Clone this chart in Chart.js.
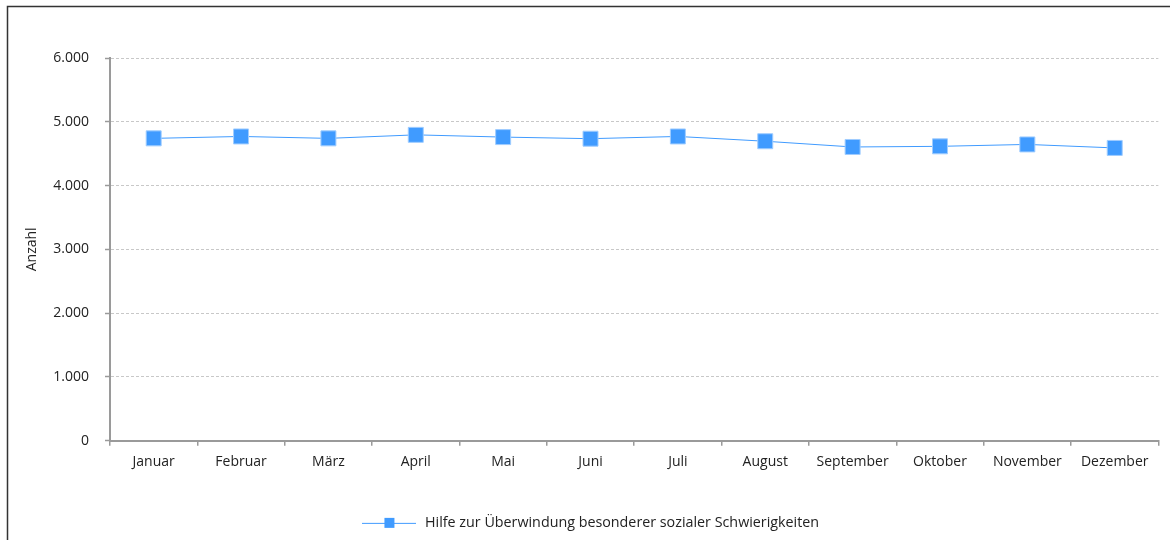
<!DOCTYPE html>
<html lang="de">
<head>
<meta charset="utf-8">
<title>Hilfe zur Überwindung besonderer sozialer Schwierigkeiten</title>
<script src="https://cdn.jsdelivr.net/npm/chart.js@4/dist/chart.umd.min.js"></script>
<style>
  html, body { margin: 0; padding: 0; background: #fff; }
  #wrap { position: relative; width: 1170px; height: 540px; }
</style>
</head>
<body>
<div id="wrap"><canvas id="chart" width="1170" height="540"></canvas></div>
<script>
// Monatliche Anzahl der Empfänger
const months = ['Januar', 'Februar', 'März', 'April', 'Mai', 'Juni', 'Juli',
  'August', 'September', 'Oktober', 'November', 'Dezember'];
const seriesName = 'Hilfe zur Überwindung besonderer sozialer Schwierigkeiten';
const recipients = [4740, 4770, 4740, 4795, 4760, 4735, 4770, 4695, 4605, 4615, 4645, 4590];
const yTicks = [0, 1000, 2000, 3000, 4000, 5000, 6000];

const BLUE = 'rgb(64,155,255)';
const FONT = "'Open Sans', 'DejaVu Sans', sans-serif";
const AXIS = '#9a9a9a';

// Legendensymbol: Linie mit Quadrat in der Mitte
function legendSymbol() {
  const c = document.createElement('canvas');
  c.width = 54; c.height = 12;
  const g = c.getContext('2d');
  g.strokeStyle = BLUE; g.lineWidth = 1;
  g.beginPath(); g.moveTo(0, 6.5); g.lineTo(54, 6.5); g.stroke();
  g.fillStyle = BLUE;
  g.fillRect(22, 1, 10, 10);
  return c;
}

// Rahmen um die Grafik
const framePlugin = {
  id: 'frame',
  beforeDraw(chart) {
    const ctx = chart.ctx;
    ctx.save();
    ctx.strokeStyle = '#333';
    ctx.lineWidth = 1.5;
    ctx.strokeRect(7.5, 6.5, 2000, 2000);
    ctx.restore();
  }
};

const fmt = new Intl.NumberFormat('de-DE');

new Chart(document.getElementById('chart'), {
  type: 'line',
  data: {
    labels: months,
    datasets: [{
      label: seriesName,
      data: recipients,
      borderColor: BLUE,
      borderWidth: 1,
      backgroundColor: BLUE,
      pointStyle: 'rect',
      pointRadius: 10.6,
      pointHoverRadius: 10.6,
      pointBackgroundColor: BLUE,
      pointBorderColor: 'rgba(160,205,255,1)',
      pointBorderWidth: 1,
      tension: 0,
      fill: false
    }]
  },
  options: {
    responsive: false,
    animation: false,
    layout: { padding: { left: 20, right: 10, top: 58, bottom: 0 } },
    plugins: {
      tooltip: { enabled: false },
      legend: {
        position: 'bottom',
        labels: {
          usePointStyle: true,
          pointStyleWidth: 57,
          padding: 10,
          color: '#222',
          font: { family: FONT, size: 14.3 },
          generateLabels(chart) {
            return chart.data.datasets.map((ds, i) => ({
              text: ds.label,
              pointStyle: legendSymbol(),
              fillStyle: BLUE,
              strokeStyle: BLUE,
              lineWidth: 0,
              hidden: false,
              datasetIndex: i,
              fontColor: '#222'
            }));
          }
        }
      }
    },
    scales: {
      x: {
        offset: true,
        grid: {
          display: true,
          drawOnChartArea: false,
          offset: true,
          tickLength: 5,
          color: AXIS,
          lineWidth: 1.5
        },
        border: { display: true, color: AXIS, width: 2 },
        ticks: {
          padding: 8,
          color: '#222',
          font: { family: FONT, size: 14 }
        },
        afterFit(scale) { scale.height = 65; }
      },
      y: {
        min: 0,
        max: 6000,
        afterBuildTicks(scale) { scale.ticks = yTicks.map(v => ({ value: v })); },
        grid: {
          color: '#c8c8c8',
          lineWidth: 1,
          tickLength: 5,
          tickColor: AXIS,
          tickWidth: 1.5,
          tickBorderDash: []
        },
        border: { display: true, color: AXIS, width: 2, dash: [3, 2] },
        ticks: {
          padding: 16,
          color: '#222',
          font: { family: FONT, size: 14 },
          callback: v => fmt.format(v)
        },
        title: {
          display: true,
          text: 'Anzahl',
          color: '#222',
          font: { family: FONT, size: 14 },
          padding: { top: 4, bottom: 0 }
        },
        afterFit(scale) { scale.width = 90; }
      }
    }
  },
  plugins: [framePlugin]
});
</script>
</body>
</html>
